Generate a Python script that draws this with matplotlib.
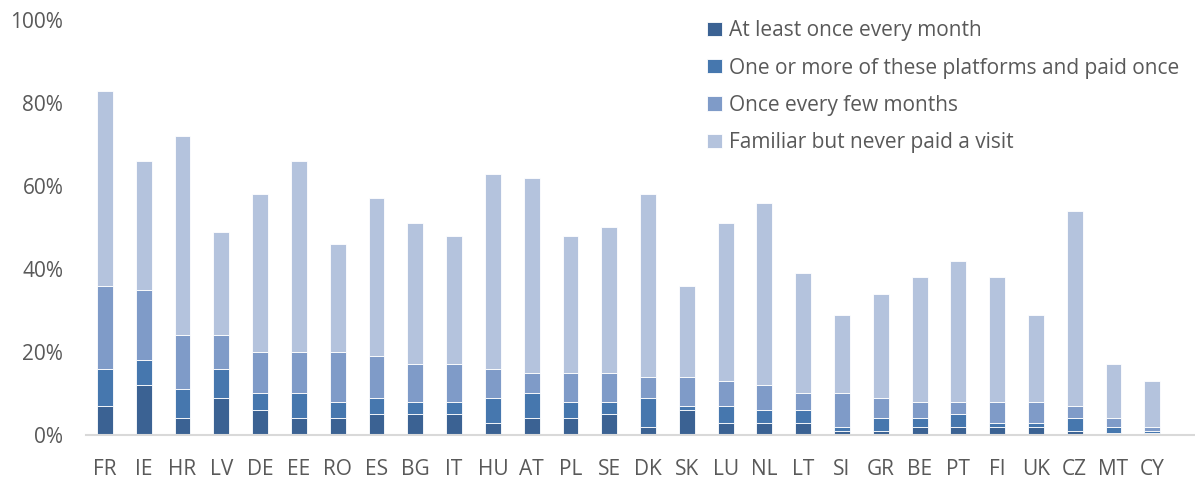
import numpy as np
import matplotlib
matplotlib.use('Agg')
import matplotlib.pyplot as plt
from matplotlib import rcParams

rcParams['font.family'] = ['Open Sans', 'DejaVu Sans']

countries = ['FR', 'IE', 'HR', 'LV', 'DE', 'EE', 'RO', 'ES', 'BG', 'IT', 'HU', 'AT', 'PL', 'SE',
             'DK', 'SK', 'LU', 'NL', 'LT', 'SI', 'GR', 'BE', 'PT', 'FI', 'UK', 'CZ', 'MT', 'CY']

# shares in %
monthly  = [7, 12, 4, 9, 6, 4, 4, 5, 5, 5, 3, 4, 4, 5, 2, 6, 3, 3, 3, 1, 1, 2, 2, 2, 2, 1, 0.5, 0.5]
paid_once = [9, 6, 7, 7, 4, 6, 4, 4, 3, 3, 6, 6, 4, 3, 7, 1, 4, 3, 3, 1, 3, 2, 3, 1, 1, 3, 1.5, 0.5]
few_months = [20, 17, 13, 8, 10, 10, 12, 10, 9, 9, 7, 5, 7, 7, 5, 7, 6, 6, 4, 8, 5, 4, 3, 5, 5, 3, 2, 1]
never_paid = [47, 31, 48, 25, 38, 46, 26, 38, 34, 31, 47, 47, 33, 35, 44, 22, 38, 44, 29, 19, 25, 30, 34, 30, 21, 47, 13, 11]

labels = ['At least once every month', 'One or more of these platforms and paid once',
          'Once every few months', 'Familiar but never paid a visit']
colors = ['#3b6293', '#4677ae', '#7f9bc8', '#b4c3dd']

fig = plt.figure(figsize=(11.95, 4.79), dpi=100)
ax = fig.add_axes([0.0716, 0.0919, 0.9284, 0.8664])

x = np.arange(len(countries))
bottom = np.zeros(len(countries))
for vals, lab, col in zip([monthly, paid_once, few_months, never_paid], labels, colors):
    v = np.array(vals, dtype=float)
    ax.bar(x, v, 0.41, bottom=bottom, color=col, label=lab, edgecolor='white', linewidth=0.6)
    bottom += v

ax.set_xlim(-0.5, 28.1)
ax.set_ylim(0, 100)
ax.set_yticks([0, 20, 40, 60, 80, 100])
ax.set_yticklabels(['%d%%' % t for t in [0, 20, 40, 60, 80, 100]])
ax.set_xticks(x)
ax.set_xticklabels(countries)
ax.tick_params(axis='both', length=0, labelsize=15, colors='#595959')
ax.tick_params(axis='y', pad=16)
ax.tick_params(axis='x', pad=17)
for s in ['top', 'right', 'left']:
    ax.spines[s].set_visible(False)
ax.spines['bottom'].set_color('#d9d9d9')
ax.spines['bottom'].set_linewidth(1.5)

leg = ax.legend(loc='upper left', bbox_to_anchor=(699 / 1195, 1 - 12 / 479),
                bbox_transform=fig.transFigure, frameon=False, fontsize=15,
                handlelength=0.68, handleheight=0.68, handletextpad=0.35,
                labelspacing=0.78, borderaxespad=0)
for t in leg.get_texts():
    t.set_color('#595959')

fig.savefig('out.png', dpi=100)
